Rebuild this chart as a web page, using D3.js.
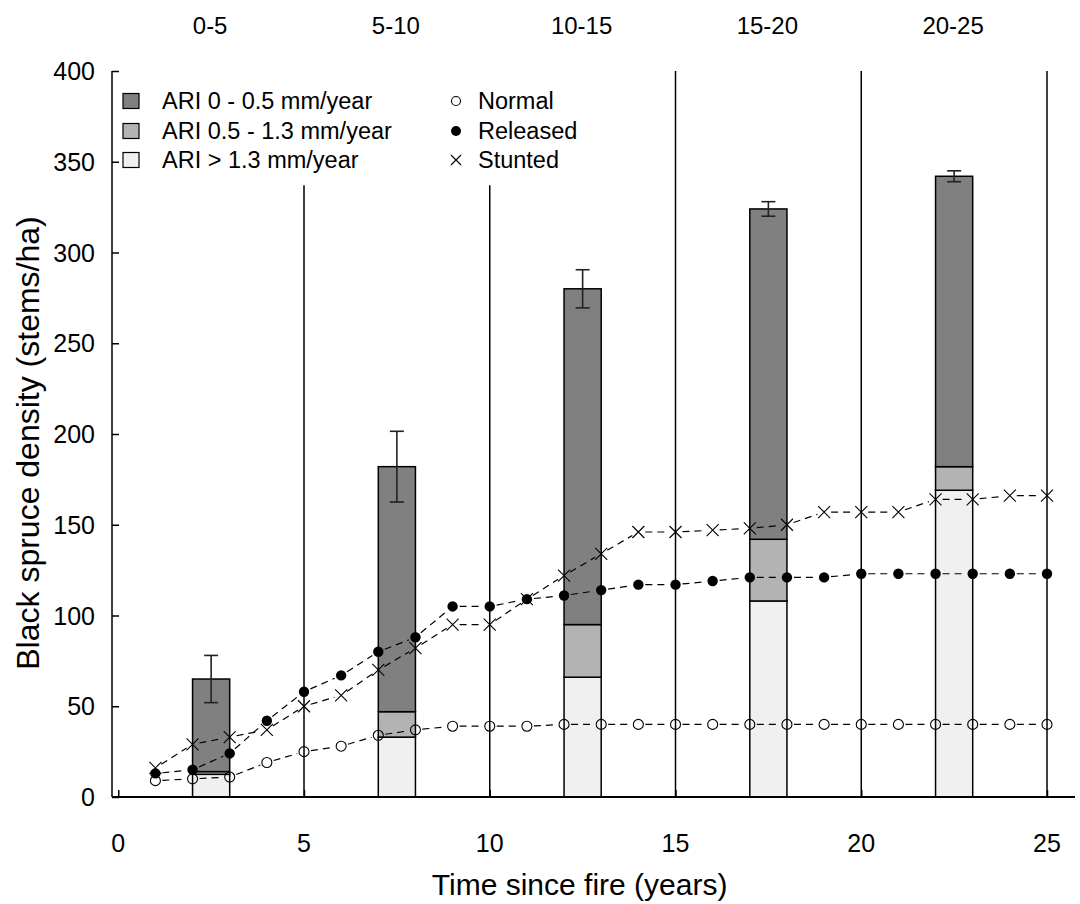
<!DOCTYPE html>
<html>
<head>
<meta charset="utf-8">
<script src="https://cdn.jsdelivr.net/npm/d3@7"></script>
<style>
  html, body { margin: 0; padding: 0; background: #fff; }
  svg text { font-family: Arial, "Liberation Sans", sans-serif; fill: #000; }
</style>
</head>
<body>
<svg id="chart" width="1080" height="904"></svg>
<script>
// ---------- data ----------
const ageClasses = ["0-5", "5-10", "10-15", "15-20", "20-25"];
const classMid = [2.5, 7.5, 12.5, 17.5, 22.5];
const barStart = [2, 7, 12, 17, 22];
const barEnd = [3, 8, 13, 18, 23];
const ariHigh = [12.5, 33, 66, 108, 169];   // ARI > 1.3 mm/year
const ariMid = [1.5, 14, 29, 34, 13];       // ARI 0.5 - 1.3 mm/year
const ariLow = [51, 135, 185, 182, 160];    // ARI 0 - 0.5 mm/year
const barErr = [13, 19.5, 10.5, 4, 3];

const years = [1,2,3,4,5,6,7,8,9,10,11,12,13,14,15,16,17,18,19,20,21,22,23,24,25];
const normal = [9,10,11,19,25,28,34,37,39,39,39,40,40,40,40,40,40,40,40,40,40,40,40,40,40];
const released = [13,15,24,42,58,67,80,88,105,105,109,111,114,117,117,119,121,121,121,123,123,123,123,123,123];
const stunted = [16,29,33,37,50,56,70,82,95,95,109,122,134,146,146,147,148,150,157,157,157,164,164,166,166];

const separators = [5, 10, 15, 20, 25];
const separatorTop = [337, 337, 400, 400, 400];
const xTicks = [0, 5, 10, 15, 20, 25];
const yTicks = [0, 50, 100, 150, 200, 250, 300, 350, 400];

const stackNames = ["ARI 0 - 0.5 mm/year", "ARI 0.5 - 1.3 mm/year", "ARI > 1.3 mm/year"];
const stackColors = ["#808080", "#b3b3b3", "#f0f0f0"];
const seriesNames = ["Normal", "Released", "Stunted"];

// ---------- scales ----------
const svg = d3.select("#chart");
const x = d3.scaleLinear().domain([0, 25]).range([118.25, 1047]);
const y = d3.scaleLinear().domain([0, 400]).range([797, 71]);
const axisLeftX = 112, axisRightX = 1075;

// ---------- bars ----------
const barG = svg.append("g");
ageClasses.forEach((c, i) => {
  const segs = [
    {lo: 0, hi: ariHigh[i], col: stackColors[2]},
    {lo: ariHigh[i], hi: ariHigh[i] + ariMid[i], col: stackColors[1]},
    {lo: ariHigh[i] + ariMid[i], hi: ariHigh[i] + ariMid[i] + ariLow[i], col: stackColors[0]}
  ];
  segs.forEach(s => {
    barG.append("rect")
      .attr("x", x(barStart[i])).attr("width", x(barEnd[i]) - x(barStart[i]))
      .attr("y", y(s.hi)).attr("height", y(s.lo) - y(s.hi))
      .attr("fill", s.col).attr("stroke", "#000").attr("stroke-width", 1.5);
  });
});

// error bars
const errG = svg.append("g").attr("stroke", "#222").attr("stroke-width", 1.6);
ageClasses.forEach((c, i) => {
  const tot = ariHigh[i] + ariMid[i] + ariLow[i];
  const cx = x(classMid[i]);
  errG.append("line").attr("x1", cx).attr("x2", cx).attr("y1", y(tot + barErr[i])).attr("y2", y(tot - barErr[i]));
  [tot + barErr[i], tot - barErr[i]].forEach(v => {
    errG.append("line").attr("x1", cx - 7).attr("x2", cx + 7).attr("y1", y(v)).attr("y2", y(v));
  });
});

// separators
separators.forEach((s, i) => {
  svg.append("line").attr("x1", x(s)).attr("x2", x(s))
    .attr("y1", y(0)).attr("y2", y(separatorTop[i]))
    .attr("stroke", "#000").attr("stroke-width", 1.5);
});

// ---------- axes ----------
svg.append("line").attr("x1", axisLeftX).attr("x2", axisLeftX).attr("y1", y(400)).attr("y2", y(0))
  .attr("stroke", "#000").attr("stroke-width", 1.5);
svg.append("line").attr("x1", axisLeftX).attr("x2", axisRightX).attr("y1", y(0)).attr("y2", y(0))
  .attr("stroke", "#000").attr("stroke-width", 2);

const yAxis = d3.axisRight(y).tickValues(yTicks).tickSize(7).tickFormat("");
svg.append("g").attr("transform", `translate(${axisLeftX},0)`).call(yAxis)
  .call(g => g.select(".domain").remove())
  .call(g => g.selectAll("line").attr("stroke", "#000").attr("stroke-width", 1.5));
yTicks.forEach(t => {
  svg.append("text").attr("x", 95).attr("y", y(t)).attr("dy", "0.36em")
    .attr("text-anchor", "end").attr("font-size", 25).text(t);
});

const xAxis = d3.axisTop(x).tickValues(xTicks).tickSize(7).tickFormat("");
svg.append("g").attr("transform", `translate(0,${y(0)})`).call(xAxis)
  .call(g => g.select(".domain").remove())
  .call(g => g.selectAll("line").attr("stroke", "#000").attr("stroke-width", 1.5));
xTicks.forEach(t => {
  svg.append("text").attr("x", x(t)).attr("y", 852)
    .attr("text-anchor", "middle").attr("font-size", 25).text(t);
});
ageClasses.forEach((c, i) => {
  svg.append("text").attr("x", x(classMid[i]) - 1).attr("y", 34)
    .attr("text-anchor", "middle").attr("font-size", 24).text(c);
});

svg.append("text").attr("x", (x(0) + x(25)) / 2 - 3).attr("y", 895)
  .attr("text-anchor", "middle").attr("font-size", 30).text("Time since fire (years)");
svg.append("text").attr("transform", `translate(39,443) rotate(-90)`)
  .attr("text-anchor", "middle").attr("font-size", 32).text("Black spruce density (stems/ha)");

// ---------- lines with gaps ----------
function gappedSegments(vals, gap) {
  const segs = [];
  for (let i = 0; i < years.length - 1; i++) {
    const x1 = x(years[i]), y1 = y(vals[i]), x2 = x(years[i + 1]), y2 = y(vals[i + 1]);
    const dx = x2 - x1, dy = y2 - y1, L = Math.hypot(dx, dy);
    if (L <= 2 * gap) continue;
    const ux = dx / L, uy = dy / L;
    segs.push([x1 + ux * gap, y1 + uy * gap, x2 - ux * gap, y2 - uy * gap]);
  }
  return segs;
}
const lineG = svg.append("g").attr("stroke", "#000").attr("stroke-width", 1.2)
  .attr("stroke-dasharray", "7,5").attr("fill", "none");
[normal, released, stunted].forEach(vals => {
  gappedSegments(vals, 7).forEach(s => {
    lineG.append("line").attr("x1", s[0]).attr("y1", s[1]).attr("x2", s[2]).attr("y2", s[3]);
  });
});

// points
const ptG = svg.append("g");
years.forEach((yr, i) => {
  ptG.append("circle").attr("cx", x(yr)).attr("cy", y(normal[i])).attr("r", 5)
    .attr("fill", "none").attr("stroke", "#000").attr("stroke-width", 1.1);
  ptG.append("circle").attr("cx", x(yr)).attr("cy", y(released[i])).attr("r", 5.2)
    .attr("fill", "#000");
  const cx = x(yr), cy = y(stunted[i]), h = 6;
  ptG.append("path").attr("d", `M${cx-h},${cy-h}L${cx+h},${cy+h}M${cx-h},${cy+h}L${cx+h},${cy-h}`)
    .attr("stroke", "#000").attr("stroke-width", 1.1);
});

// ---------- legend ----------
const legRows = [101, 131, 160];
stackNames.forEach((n, i) => {
  svg.append("rect").attr("x", 123).attr("y", legRows[i] - 7.5).attr("width", 16).attr("height", 15)
    .attr("fill", stackColors[i]).attr("stroke", "#000").attr("stroke-width", 1.2);
  svg.append("text").attr("x", 162).attr("y", legRows[i]).attr("dy", "0.36em")
    .attr("font-size", 23.5).text(n);
});
seriesNames.forEach((n, i) => {
  const cx = 456, cy = legRows[i];
  if (i === 0) svg.append("circle").attr("cx", cx).attr("cy", cy).attr("r", 4.5).attr("fill", "none").attr("stroke", "#000").attr("stroke-width", 1.1);
  if (i === 1) svg.append("circle").attr("cx", cx).attr("cy", cy).attr("r", 5).attr("fill", "#000");
  if (i === 2) svg.append("path").attr("d", `M${cx-5},${cy-5}L${cx+5},${cy+5}M${cx-5},${cy+5}L${cx+5},${cy-5}`).attr("stroke", "#000").attr("stroke-width", 1.1);
  svg.append("text").attr("x", 478).attr("y", cy).attr("dy", "0.36em").attr("font-size", 23.5).text(n);
});
</script>
</body>
</html>
